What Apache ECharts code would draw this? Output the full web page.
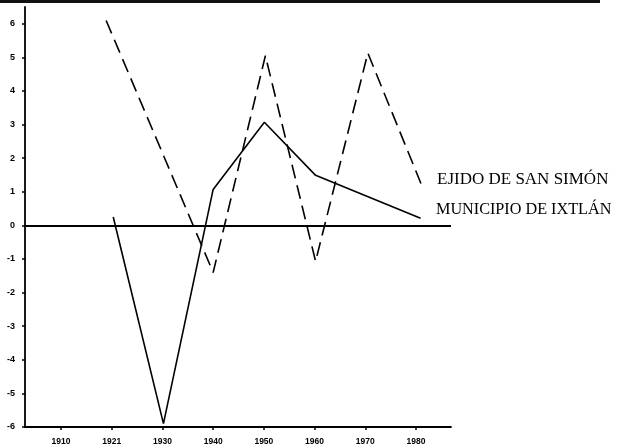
<!DOCTYPE html>
<html>
<head>
<meta charset="utf-8">
<script src="https://cdn.jsdelivr.net/npm/echarts@6/dist/echarts.min.js"></script>
<style>
html,body{margin:0;padding:0;background:#fff;}
#chart{width:618px;height:448px;}
</style>
</head>
<body>
<div id="chart"></div>
<script>
// Tick labels along the x axis (evenly spaced positions 0..7)
var xTickLabels = ['1910', '1921', '1930', '1940', '1950', '1960', '1970', '1980'];
var xTickPositions = [0, 1, 2, 3, 4, 5, 6, 7];
var yTickValues = [-6, -5, -4, -3, -2, -1, 0, 1, 2, 3, 4, 5, 6];

var seriesNames = ['EJIDO DE SAN SIMÓN', 'MUNICIPIO DE IXTLÁN'];

// Ejido de San Simón (dashed)
var ejidoX = [0.89, 3.0, 4.03, 5.02, 6.05, 7.11];
var ejidoY = [6.1, -1.4, 5.05, -1.07, 5.13, 1.2];

// Municipio de Ixtlán (solid)
var municipioX = [1.03, 2.02, 3.0, 4.01, 5.02, 7.09];
var municipioY = [0.25, -5.9, 1.07, 3.07, 1.49, 0.21];

function pairs(xs, ys) {
  return xs.map(function (x, i) { return [x, ys[i]]; });
}

var chart = echarts.init(document.getElementById('chart'), null, {renderer: 'canvas'});
chart.setOption({
  animation: false,
  backgroundColor: '#fff',
  grid: {left: 25, right: 167, top: 7, bottom: 21, containLabel: false},
  xAxis: {
    type: 'value',
    min: -0.71,
    max: 7.69,
    splitLine: {show: false},
    axisLine: {show: true, onZero: false, lineStyle: {color: '#000', width: 1.8}},
    axisTick: {show: true, customValues: xTickPositions, length: 3, lineStyle: {color: '#000', width: 1.5}},
    axisLabel: {
      customValues: xTickPositions,
      margin: 10,
      color: '#000',
      fontFamily: 'Liberation Sans, Arial, sans-serif',
      fontWeight: 'bold',
      fontSize: 8.5,
      formatter: function (v) { return xTickLabels[Math.round(v)]; }
    }
  },
  yAxis: {
    type: 'value',
    min: -6,
    max: 6.5,
    splitLine: {show: false},
    axisLine: {show: true, onZero: false, lineStyle: {color: '#000', width: 1.8}},
    axisTick: {show: true, customValues: yTickValues, length: 3, lineStyle: {color: '#000', width: 1.5}},
    axisLabel: {
      customValues: yTickValues,
      margin: 10,
      color: '#000',
      fontFamily: 'Liberation Sans, Arial, sans-serif',
      fontWeight: 'bold',
      fontSize: 9
    }
  },
  series: [
    {
      name: seriesNames[0],
      type: 'line',
      data: pairs(ejidoX, ejidoY),
      symbol: 'none',
      clip: false,
      lineStyle: {color: '#000', width: 1.6, type: [14, 7]},
      z: 3
    },
    {
      name: seriesNames[1],
      type: 'line',
      data: pairs(municipioX, municipioY),
      symbol: 'none',
      clip: false,
      lineStyle: {color: '#000', width: 1.6, type: 'solid'},
      markLine: {
        silent: true,
        symbol: 'none',
        label: {show: false},
        lineStyle: {color: '#000', width: 1.8, type: 'solid'},
        data: [{yAxis: 0}]
      },
      z: 3
    }
  ],
  graphic: [
    {type: 'rect', left: 0, top: 0, shape: {width: 600, height: 3}, style: {fill: '#111'}},
    {type: 'text', left: 437, top: 171, style: {text: seriesNames[0], fill: '#000', font: '17px "Liberation Serif", "Times New Roman", serif'}},
    {type: 'text', left: 436, top: 202, style: {text: seriesNames[1], fill: '#000', font: '16.2px "Liberation Serif", "Times New Roman", serif'}}
  ]
});
</script>
</body>
</html>
